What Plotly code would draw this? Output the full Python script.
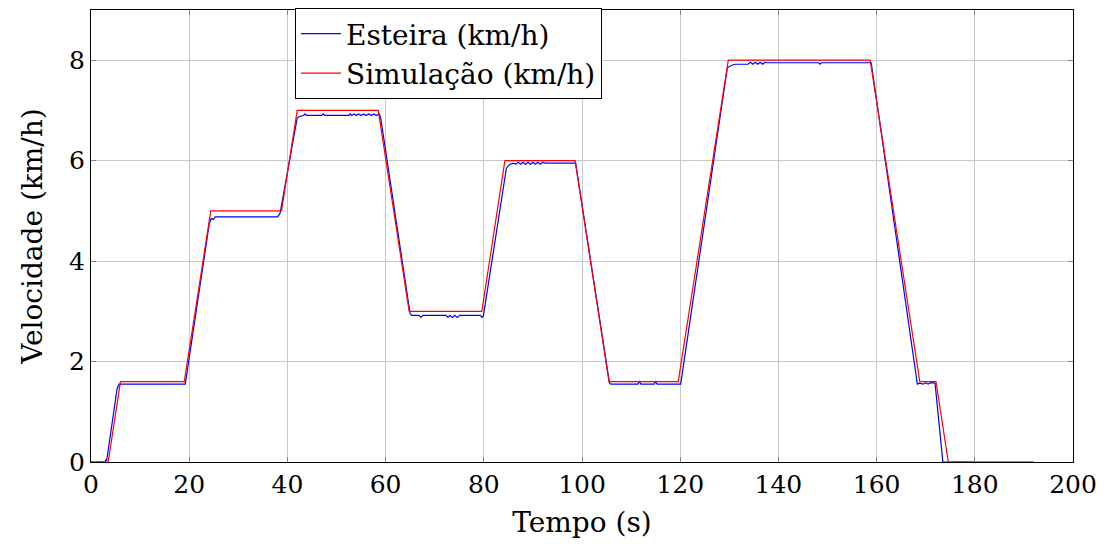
import plotly.graph_objects as go

# Simulação (km/h)
sim_t = [0, 3.5, 6.0, 19.0, 24.4, 38.8, 42.0, 58.5, 64.8, 79.6, 84.3, 98.6,
         105.5, 119.6, 129.8, 158.7, 168.8, 172.1, 174.6, 180.0]
sim_v = [0, 0, 1.6, 1.6, 5.0, 5.0, 7.0, 7.0, 3.0, 3.0, 6.0, 6.0,
         1.6, 1.6, 8.0, 8.0, 1.6, 1.6, 0, 0]

# Esteira (km/h)
est_t = [0, 2.9, 3.0, 3.2, 5.3, 5.7, 19.2, 24.1, 24.5, 24.9, 25.3, 38.0, 38.5,
         42.0, 42.4, 43.3, 43.6, 43.9, 47.0, 47.3, 47.6, 52.5, 52.8, 53.1, 53.6,
         54.0, 54.5, 55.0, 55.5, 56.0, 56.6, 57.1, 57.6, 58.1, 58.7, 59.0,
         65.0, 65.3, 66.8, 67.2, 67.6, 72.3, 72.7, 73.1, 73.6, 74.1, 74.6, 75.1,
         79.3, 79.6, 79.9,
         84.6, 85.2, 86.0, 86.5, 87.0, 87.5, 88.0, 88.5, 89.0, 89.5, 90.0, 90.5,
         91.0, 91.5, 92.0, 92.5, 98.7,
         105.6, 105.9, 111.4, 111.7, 112.0, 114.7, 115.0, 115.3, 120.1,
         129.6, 130.5, 131.2, 133.8, 134.3, 134.8, 135.3, 135.8, 136.3, 136.8,
         137.3, 137.7, 148.2, 148.5, 148.8, 158.9,
         168.3, 168.7, 169.5, 170.0, 170.5, 171.0, 171.9, 173.5, 192.0]
est_v = [0, 0, 0.05, 0.03, 1.45, 1.55, 1.55, 4.75, 4.85, 4.83, 4.88, 4.88, 4.95,
         6.85, 6.88, 6.90, 6.93, 6.90, 6.90, 6.93, 6.90, 6.90, 6.93, 6.90, 6.93,
         6.90, 6.93, 6.90, 6.93, 6.90, 6.93, 6.90, 6.93, 6.90, 6.93, 6.85,
         2.95, 2.92, 2.92, 2.88, 2.92, 2.92, 2.88, 2.92, 2.88, 2.92, 2.88, 2.92,
         2.92, 2.88, 2.90,
         5.85, 5.92, 5.95, 5.93, 5.97, 5.93, 5.97, 5.93, 5.97, 5.93, 5.97, 5.93,
         5.97, 5.93, 5.97, 5.95, 5.95,
         1.57, 1.55, 1.55, 1.60, 1.55, 1.55, 1.60, 1.55, 1.55,
         7.85, 7.90, 7.92, 7.92, 7.96, 7.92, 7.96, 7.92, 7.96, 7.92,
         7.96, 7.95, 7.95, 7.92, 7.95, 7.95,
         1.55, 1.57, 1.55, 1.58, 1.55, 1.58, 1.57, 0, 0]

x_ticks = [0, 20, 40, 60, 80, 100, 120, 140, 160, 180, 200]
y_ticks = [0, 2, 4, 6, 8]

FONT = "DejaVu Serif, Liberation Serif, serif"
FS_TICK = 25
FS_TEXT = 28

fig = go.Figure()
fig.add_trace(go.Scatter(x=est_t, y=est_v, mode="lines", name="Esteira (km/h)",
                         line=dict(color="#0000ff", width=1.2)))
fig.add_trace(go.Scatter(x=sim_t, y=sim_v, mode="lines", name="Simulação (km/h)",
                         line=dict(color="#ff0000", width=1.2)))

axis_common = dict(
    showgrid=True, gridcolor="#c8c8c8", gridwidth=1,
    showline=True, linecolor="#000000", linewidth=1.2, mirror="ticks",
    ticks="inside", ticklen=5, tickcolor="#808080",
    zeroline=False,
    tickfont=dict(family=FONT, size=FS_TICK, color="black"),
)

fig.update_xaxes(range=[0, 200], tickvals=x_ticks,
                 title=dict(text="Tempo (s)", font=dict(family=FONT, size=FS_TEXT, color="black"),
                            standoff=14),
                 **axis_common)
fig.update_yaxes(range=[0, 9], tickvals=y_ticks,
                 title=dict(text="Velocidade (km/h)", font=dict(family=FONT, size=FS_TEXT, color="black"),
                            standoff=18),
                 **axis_common)

fig.update_layout(
    width=1104, height=549,
    margin=dict(l=91, r=31, t=8, b=87),
    plot_bgcolor="white", paper_bgcolor="white",
    font=dict(family=FONT, size=FS_TEXT, color="black"),
    legend=dict(x=0.2077, y=1.0044, xanchor="left", yanchor="top",
                bgcolor="white", bordercolor="black", borderwidth=1,
                font=dict(family=FONT, size=FS_TEXT, color="black"),
                tracegroupgap=0, itemwidth=40),
    showlegend=True,
)

fig.write_html("out.html")
